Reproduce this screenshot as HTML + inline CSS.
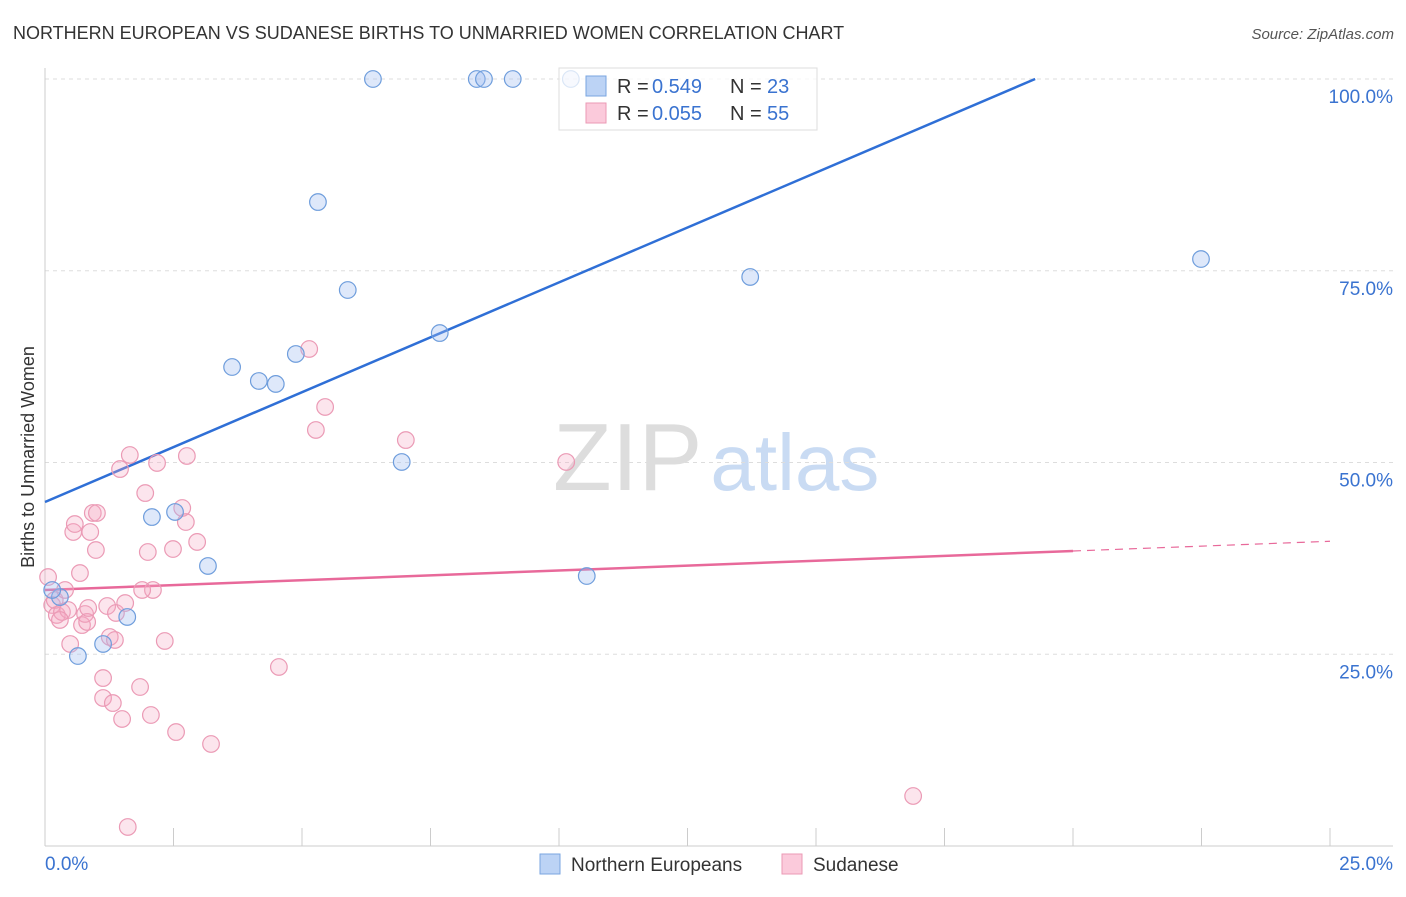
<!DOCTYPE html>
<html><head><meta charset="utf-8"><style>
body{margin:0;background:#fff;font-family:"Liberation Sans",sans-serif;}
svg text{font-family:"Liberation Sans",sans-serif;}
</style></head><body>
<svg id="chart" width="1406" height="892" xmlns="http://www.w3.org/2000/svg">
<text x="13" y="39" font-size="18" fill="#333">NORTHERN EUROPEAN VS SUDANESE BIRTHS TO UNMARRIED WOMEN CORRELATION CHART</text>
<text x="1394" y="39" font-size="15" fill="#555" font-style="italic" text-anchor="end">Source: ZipAtlas.com</text>
<text x="553" y="490" font-size="96" font-family="Liberation Serif" fill="#ddd">ZIP<tspan font-family="Liberation Sans" font-size="80" fill="#c9dbf3" dx="8">atlas</tspan></text>
<text transform="translate(34,457) rotate(-90)" font-size="18" fill="#333" text-anchor="middle">Births to Unmarried Women</text>
<g id="grid"></g><g id="axes"></g><g id="lines"></g><g id="pts"></g>
<g>
<rect x="559" y="68" width="258" height="62" fill="#fff" fill-opacity="0.75" stroke="#ddd"/>
<rect x="586" y="76" width="20" height="20" fill="#bcd3f5" stroke="#7aa6e0"/>
<rect x="586" y="103" width="20" height="20" fill="#fbcadb" stroke="#eb9ab5"/>
<text x="617" y="93" font-size="20" fill="#333">R =</text>
<text x="652" y="93" font-size="20" fill="#3a73d0">0.549</text>
<text x="730" y="93" font-size="20" fill="#333">N =</text>
<text x="767" y="93" font-size="20" fill="#3a73d0">23</text>
<text x="617" y="120" font-size="20" fill="#333">R =</text>
<text x="652" y="120" font-size="20" fill="#3a73d0">0.055</text>
<text x="730" y="120" font-size="20" fill="#333">N =</text>
<text x="767" y="120" font-size="20" fill="#3a73d0">55</text>
</g>
<g>
<rect x="540" y="854" width="20" height="20" fill="#bcd3f5" stroke="#7aa6e0"/>
<text x="571" y="871" font-size="19" fill="#333">Northern Europeans</text>
<rect x="782" y="854" width="20" height="20" fill="#fbcadb" stroke="#eb9ab5"/>
<text x="813" y="871" font-size="19" fill="#333">Sudanese</text>
</g>
</svg>
<script>
const blueX=[6.38,8.40,8.54,9.10,10.23,5.31,5.89,3.64,4.16,4.49,4.88,7.68,6.94,2.08,2.53,3.17,10.54,1.60,1.13,0.64,0.29,0.14,13.72,22.49];
const blueY=[100,100,100,100,100,83.96,72.49,62.45,60.63,60.24,64.15,66.88,50.07,42.89,43.55,36.51,35.20,29.86,26.34,24.77,32.46,33.38,74.19,76.53];
const pinkX=[0.06,0.14,0.19,0.23,0.33,0.39,0.45,0.49,0.55,0.58,0.68,0.72,0.78,0.82,0.84,0.88,0.93,1.01,0.99,1.13,1.13,1.21,1.26,1.32,1.36,1.38,1.50,1.56,1.61,1.65,1.46,1.85,1.95,2.00,2.06,2.10,2.18,2.33,2.49,2.55,2.67,2.74,2.76,2.96,3.23,4.55,5.14,5.27,5.45,7.02,10.14,16.89,0.29,1.89];
const pinkY=[35.07,31.42,32.07,30.12,30.51,33.38,30.77,26.34,40.94,41.98,35.59,28.81,30.25,29.21,31.03,40.94,43.42,43.42,38.59,21.90,19.30,31.29,27.25,18.64,26.86,30.38,16.56,31.68,2.48,50.98,49.15,20.73,46.02,38.33,17.08,33.38,49.94,26.73,38.72,14.86,44.07,42.24,50.85,39.64,13.30,23.34,64.80,54.24,57.24,52.93,50.07,6.52,29.47,33.38];
const yTicks=[25,50,75,100];
const yTickLabels=["25.0%","50.0%","75.0%","100.0%"];
const blueFit=[44.85,2.863];
const pinkFit=[33.38,0.254];
const NS='http://www.w3.org/2000/svg';
const sx=v=>45+v/25*1285;
const sy=v=>846-v/100*767;
function mk(t,a,p){const e=document.createElementNS(NS,t);for(const k in a)e.setAttribute(k,a[k]);document.getElementById(p).appendChild(e);return e;}
yTicks.forEach((t,i)=>{
 const l=mk('line',{x1:45,x2:1393,y1:sy(t),y2:sy(t),stroke:'#ddd','stroke-dasharray':'4,4'},'grid');
 
 
 const tx=mk('text',{x:1393,y:sy(t)+24,'font-size':19,fill:'#3a73d0','text-anchor':'end'},'grid');
 tx.textContent=yTickLabels[i];
 
 
});
let ax=mk('line',{x1:45,x2:1393,y1:846,y2:846,stroke:'#ccc'},'axes');


let ay=mk('line',{x1:45,x2:45,y1:68,y2:846,stroke:'#ccc'},'axes');


for(let i=0;i<=10;i++){const t=mk('line',{x1:sx(i*2.5),x2:sx(i*2.5),y1:846,y2:828,stroke:'#ccc'},'axes');
 
 }
[[0,"0.0%","start",45],[25,"25.0%","end",1393]].forEach(d=>{const t=mk('text',{x:d[3],y:870,'font-size':19,fill:'#3a73d0','text-anchor':d[2]},'axes');t.textContent=d[1];
 
 });
let bl=mk('line',{x1:sx(0),y1:sy(blueFit[0]),x2:sx((100-blueFit[0])/blueFit[1]),y2:sy(100),stroke:'#2f6fd6','stroke-width':2.5},'lines');


let pl=mk('line',{x1:sx(0),y1:sy(pinkFit[0]),x2:sx(20),y2:sy(pinkFit[0]+pinkFit[1]*20),stroke:'#e8699a','stroke-width':2.5},'lines');


let pd=mk('line',{x1:sx(20),y1:sy(pinkFit[0]+pinkFit[1]*20),x2:sx(25),y2:sy(pinkFit[0]+pinkFit[1]*25),stroke:'#e8699a','stroke-width':1.2,'stroke-dasharray':'8,6'},'lines');


pinkX.forEach((x,i)=>{const c=mk('circle',{cx:sx(x),cy:sy(pinkY[i]),r:8.3,fill:'rgba(245,170,195,0.3)',stroke:'#eb9ab5','stroke-width':1.2},'pts');
 
 });
blueX.forEach((x,i)=>{const c=mk('circle',{cx:sx(x),cy:sy(blueY[i]),r:8.3,fill:'rgba(160,190,240,0.35)',stroke:'#6e9ddc','stroke-width':1.2},'pts');
 
 });
</script>
</body></html>
